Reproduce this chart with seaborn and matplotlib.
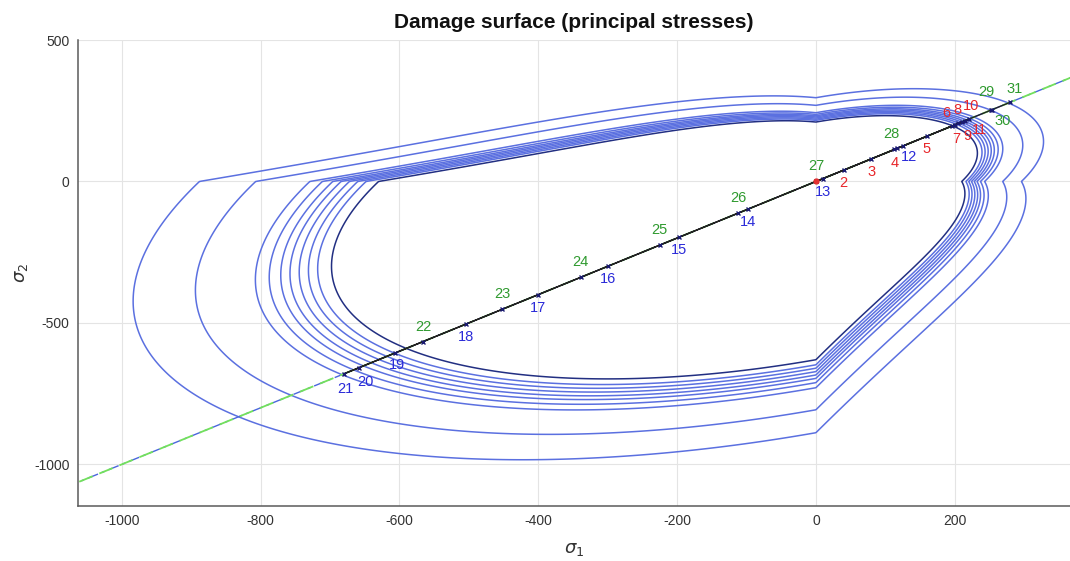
import numpy as np
import pandas as pd
import matplotlib
matplotlib.use("Agg")
import matplotlib.pyplot as plt
import seaborn as sns

# ---------------- data ----------------
# loading path (principal stresses), steps 1..31
steps = list(range(1, 32))
sigma1 = [0, 40, 80, 117, 160, 196, 200, 205, 210, 215, 220, 125, 10,
          -98, -197, -299, -400, -504, -607, -658, -680,
          -566, -452, -339, -225, -112, 0, 113, 252, 254, 280]
sigma2 = [0, 40, 80, 117, 160, 196, 200, 205, 210, 215, 220, 125, 10,
          -98, -197, -299, -400, -504, -607, -658, -680,
          -566, -452, -339, -225, -112, 0, 113, 252, 254, 280]
label_group = (["red"] * 11 + ["blue"] * 10 + ["green"] * 10)
# damage thresholds r of the plotted surfaces (tension-axis intercept)
thresholds = [210, 216, 220, 224, 228, 232, 237, 243, 269, 296]
n_ratio = 3.0      # compression / tension strength ratio
poisson = 0.43

xticks = [-1000, -800, -600, -400, -200, 0, 200]
yticks = [-1000, -500, 0, 500]

# ---------------- style ----------------
sns.set_theme(style="white")
plt.rcParams['font.family'] = ['Liberation Sans', 'DejaVu Sans']
plt.rcParams['mathtext.fontset'] = 'dejavusans'
plt.rcParams['axes.unicode_minus'] = False

fig = plt.figure(figsize=(10.7, 5.61), dpi=100)
ax = fig.add_axes([78 / 1070, (561 - 505.7) / 561, (1070 - 78) / 1070, (505.7 - 40) / 561])

# ---------------- damage surfaces (contours of the norm) ----------------
gx = np.linspace(-1150, 450, 1400)
gy = np.linspace(-1250, 600, 1400)
S1, S2 = np.meshgrid(gx, gy)
pos = np.maximum(S1, 0) + np.maximum(S2, 0)
tot = np.abs(S1) + np.abs(S2) + 1e-9
theta = pos / tot
tau = (theta + (1 - theta) / n_ratio) * np.sqrt(S1 ** 2 + S2 ** 2 - 2 * poisson * S1 * S2)
lev = sorted(thresholds)
cols = ['#222f82'] + ['#5b70e0'] * (len(lev) - 1)
ax.contour(S1, S2, tau, levels=lev, colors=cols, linewidths=1.1)

# ---------------- diagonal reference line ----------------
diag = np.array([-1300, 500])
ax.plot(diag, diag, color='#4a66dd', lw=1.0, ls=(0, (2, 3, 8, 3)), zorder=3)
ax.plot(diag, diag, color='#72e05c', lw=1.3, ls=(0, (8, 4)), zorder=3)

# ---------------- loading path ----------------
df = pd.DataFrame({"step": steps, "s1": sigma1, "s2": sigma2, "grp": label_group})
sns.lineplot(data=df, x="s1", y="s2", sort=False, estimator=None, color='#222222',
             lw=1.0, marker='x', markersize=3.5, markeredgecolor='#1a1a70',
             markeredgewidth=1.0, ax=ax, zorder=5)
ax.plot(df.s1.iloc[0], df.s2.iloc[0], 'o', color='#e33030', ms=3.5, zorder=6)

colors = {"red": '#e8262a', "blue": '#2a2ad8', "green": '#2f9a2f'}
# label offsets in pixels (style, not data)
special_offsets = {4: (-2, -16), 6: (-5.5, 12), 7: (1.7, -15), 8: (-0.8, 12),
                   9: (5.7, -15), 10: (5.6, 13.5), 11: (11, -11.5), 12: (6, -12),
                   19: (2.6, -13), 20: (6.3, -15), 21: (1.6, -16.5), 28: (-2.8, 14.5),
                   29: (-4.4, 16.8), 30: (10.5, -12), 31: (4.4, 12.2)}
for _, r in df.iterrows():
    k = int(r.step)
    if k == 1:
        continue
    off = (0, 14) if r.grp == "green" else (0, -14)
    off = special_offsets.get(k, off)
    ax.annotate(str(k), (r.s1, r.s2), xytext=(off[0], off[1] + 1), textcoords='offset pixels',
                ha='center', va='center', fontsize=10.5, color=colors[r.grp], zorder=7)

# ---------------- axes ----------------
ax.set_xlim(-1063, 366)
ax.set_ylim(-1146, 500)
ax.set_xticks(xticks)
ax.set_yticks(yticks)
ax.grid(True, color='#e4e4e4', lw=0.8)
ax.set_axisbelow(True)
for s in ['top', 'right']:
    ax.spines[s].set_visible(False)
for s in ['left', 'bottom']:
    ax.spines[s].set_color('#5a5a5a')
    ax.spines[s].set_linewidth(1.1)
ax.tick_params(direction='in', length=7, width=0.9, color='#5a5a5a',
               labelsize=10, labelcolor='#333333', pad=6)
ax.set_xlabel(r'$\sigma_1$', fontsize=13, color='#333333', labelpad=9)
ax.set_ylabel(r'$\sigma_2$', fontsize=13, color='#333333', labelpad=3)
ax.set_title('Damage surface (principal stresses)', fontsize=15, fontweight='bold',
             color='#111111', pad=9)

fig.savefig('out.png', dpi=100)
